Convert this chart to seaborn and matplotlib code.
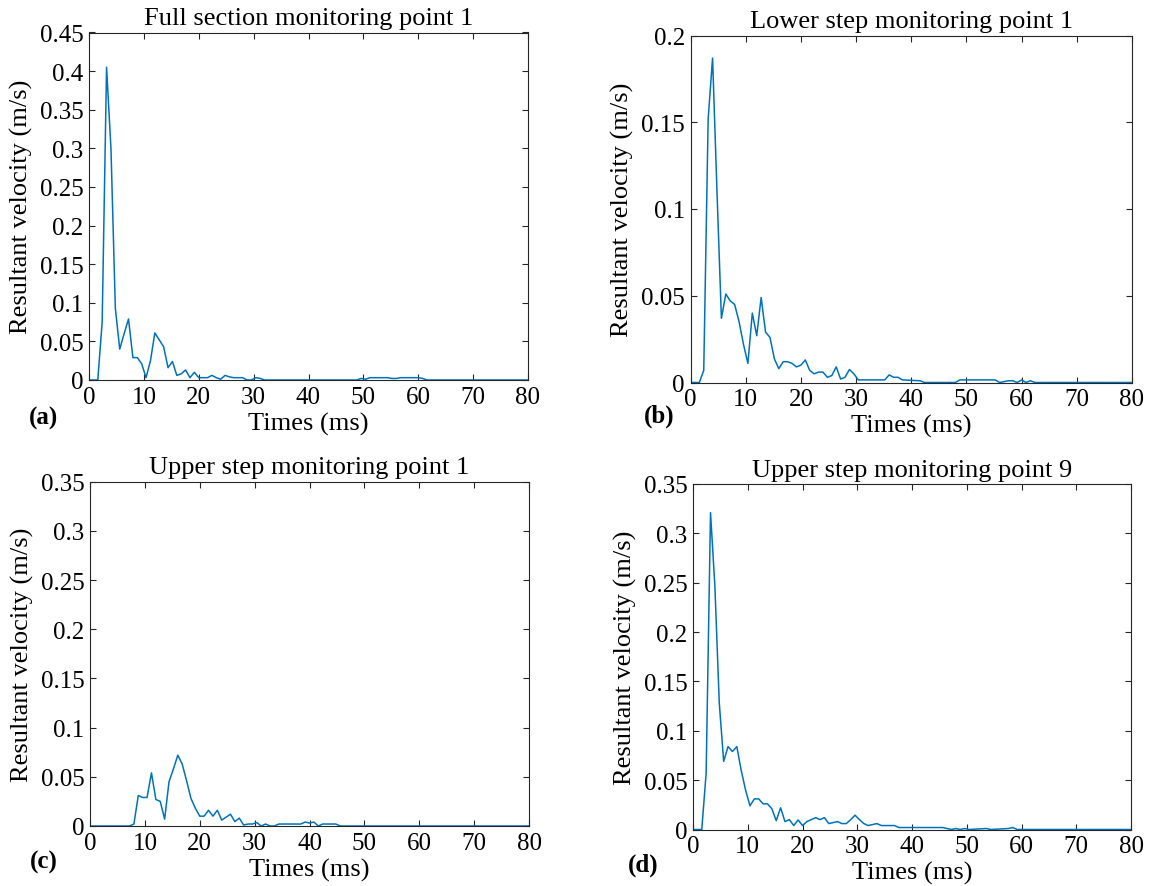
import numpy as np
import pandas as pd
import matplotlib
matplotlib.use("Agg")
import matplotlib.pyplot as plt
import seaborn as sns
from matplotlib.ticker import FuncFormatter, MultipleLocator

# ---------------- data (time in ms, resultant velocity in m/s) ----------------
t_a = [0, 1.6, 2.4, 3.2, 4.0, 4.8, 5.6, 6.4, 7.2, 8.0, 8.8, 9.6, 10.4, 11.2, 12.0, 12.8,
       13.6, 14.4, 15.2, 16.0, 16.8, 17.6, 18.4, 19.2, 20.0, 20.8, 21.6, 22.4, 23.2, 24.0,
       24.8, 25.6, 26.4, 27.2, 28.0, 28.8, 29.6, 30.4, 31.2, 32.0, 48.8, 49.6, 50.4, 51.2,
       52.0, 52.8, 53.6, 54.4, 55.2, 56.0, 56.8, 57.6, 58.4, 59.2, 60.0, 60.8, 61.6, 80]
v_a = [0, 0, 0.075, 0.405, 0.30, 0.093, 0.040, 0.060, 0.079, 0.029, 0.029, 0.021, 0.003,
       0.025, 0.061, 0.052, 0.043, 0.016, 0.024, 0.006, 0.008, 0.013, 0.003, 0.010, 0.003,
       0.003, 0.003, 0.006, 0.003, 0.001, 0.006, 0.004, 0.003, 0.003, 0.003, 0.0, 0.0,
       0.003, 0.002, 0.0, 0.0, 0.002, 0.001, 0.003, 0.003, 0.003, 0.003, 0.003, 0.002,
       0.002, 0.003, 0.003, 0.003, 0.003, 0.003, 0.002, 0.0, 0]

t_b = [0, 1.6, 2.4, 3.2, 4.0, 4.8, 5.6, 6.4, 7.2, 8.0, 8.8, 9.6, 10.4, 11.2, 12.0, 12.8,
       13.6, 14.4, 15.2, 16.0, 16.8, 17.6, 18.4, 19.2, 20.0, 20.8, 21.6, 22.4, 23.2, 24.0,
       24.8, 25.6, 26.4, 27.2, 28.0, 28.8, 29.6, 30.4, 35.2, 36.0, 36.8, 37.6, 38.4, 41.6,
       42.4, 48.0, 48.8, 55.2, 56.0, 57.6, 58.4, 59.2, 60.0, 60.8, 61.6, 62.4, 80]
v_b = [0, 0, 0.007, 0.152, 0.187, 0.110, 0.037, 0.051, 0.047, 0.045, 0.035, 0.022, 0.011,
       0.040, 0.027, 0.049, 0.029, 0.026, 0.0136, 0.008, 0.012, 0.012, 0.011, 0.009, 0.010,
       0.013, 0.007, 0.005, 0.006, 0.006, 0.003, 0.004, 0.009, 0.002, 0.003, 0.0075, 0.005,
       0.0015, 0.0015, 0.0044, 0.003, 0.003, 0.0015, 0.001, 0.0, 0.0, 0.0015, 0.0015, 0.0,
       0.001, 0.001, 0.0, 0.0015, 0.0, 0.001, 0.0, 0]

t_c = [0, 7.2, 8.0, 8.8, 9.6, 10.4, 11.2, 12.0, 12.8, 13.6, 14.4, 15.2, 16.0, 16.8, 17.6,
       18.4, 19.2, 20.0, 20.8, 21.6, 22.4, 23.2, 24.0, 24.8, 25.6, 26.4, 27.2, 28.0, 28.8,
       29.6, 30.4, 31.2, 32.0, 32.8, 33.6, 34.4, 38.4, 39.2, 40.0, 40.8, 41.6, 42.4, 44.8,
       45.6, 80]
v_c = [0, 0, 0.002, 0.031, 0.029, 0.029, 0.054, 0.027, 0.025, 0.007, 0.045, 0.058, 0.072,
       0.063, 0.046, 0.028, 0.018, 0.010, 0.010, 0.016, 0.010, 0.016, 0.006, 0.009, 0.012,
       0.0045, 0.008, 0.001, 0.002, 0.002, 0.0035, 0.0, 0.002, 0.0, 0.0, 0.002, 0.002,
       0.004, 0.003, 0.004, 0.0, 0.002, 0.002, 0.0, 0]

t_d = [0, 1.6, 2.4, 3.2, 4.0, 4.8, 5.6, 6.4, 7.2, 8.0, 8.8, 9.6, 10.4, 11.2, 12.0, 12.8,
       13.6, 14.4, 15.2, 16.0, 16.8, 17.6, 18.4, 19.2, 20.0, 20.8, 21.6, 22.4, 23.2, 24.0,
       24.8, 25.6, 26.4, 27.2, 28.0, 28.8, 29.6, 30.4, 31.2, 32.0, 32.8, 33.6, 34.4, 36.8,
       37.6, 45.6, 46.4, 47.2, 48.0, 48.8, 49.6, 50.4, 53.6, 54.4, 57.6, 58.4, 59.2, 80]
v_d = [0, 0, 0.057, 0.321, 0.246, 0.128, 0.069, 0.084, 0.079, 0.084, 0.060, 0.040, 0.024,
       0.031, 0.031, 0.026, 0.026, 0.021, 0.009, 0.022, 0.008, 0.010, 0.004, 0.0097, 0.004,
       0.008, 0.010, 0.012, 0.010, 0.012, 0.006, 0.007, 0.008, 0.006, 0.006, 0.010, 0.0145,
       0.010, 0.006, 0.004, 0.005, 0.006, 0.004, 0.004, 0.002, 0.002, 0.001, 0.0, 0.001,
       0.0, 0.001, 0.0, 0.001, 0.0, 0.001, 0.002, 0.0, 0]

titles = ["Full section monitoring point 1", "Lower step monitoring point 1",
          "Upper step monitoring point 1", "Upper step monitoring point 9"]
letters = ["(a)", "(b)", "(c)", "(d)"]
ymax = [0.45, 0.2, 0.35, 0.35]
x_label = "Times (ms)"
y_label = "Resultant velocity (m/s)"

# ---------------- style ----------------
sns.set_style("ticks")
plt.rcParams["font.family"] = ["Liberation Serif", "DejaVu Serif"]
plt.rcParams["text.color"] = "black"
plt.rcParams["axes.labelcolor"] = "black"

LINE = "#0072BD"
EDGE = "#262626"
FS = 18
FS_LAB = 19

fig = plt.figure(figsize=(11.59, 8.87), dpi=100)
W, H = 1159, 887
boxes = [(89, 528, 33.5, 381), (690.5, 1132, 36.5, 383.5),
         (90, 529, 482.7, 827), (693, 1131, 485, 830.5)]
letter_pos = [(43, 418), (659, 416), (44, 862), (643, 865)]

series = [(t_a, v_a), (t_b, v_b), (t_c, v_c), (t_d, v_d)]

fmt = FuncFormatter(lambda v, p: ("%g" % round(v, 4)))

for i, ((l, r, t, b), (tt, vv)) in enumerate(zip(boxes, series)):
    ax = fig.add_axes([l / W, 1 - b / H, (r - l) / W, (b - t) / H])
    df = pd.DataFrame({"t": tt, "v": vv})
    sns.lineplot(data=df, x="t", y="v", ax=ax, color=LINE, linewidth=1.1,
                 estimator=None, sort=False)
    ax.set_xlim(0, 80)
    ax.set_ylim(0, ymax[i])
    ax.xaxis.set_major_locator(MultipleLocator(10))
    ax.yaxis.set_major_locator(MultipleLocator(0.05))
    ax.yaxis.set_major_formatter(fmt)
    ax.xaxis.set_major_formatter(fmt)
    ax.tick_params(direction="in", length=4.5, width=0.8, colors=EDGE,
                   labelcolor="black", labelsize=FS, top=True, right=True, pad=4)
    for s in ax.spines.values():
        s.set_visible(True)
        s.set_color(EDGE)
        s.set_linewidth(0.8)
    ax.set_xlabel(x_label, fontsize=FS_LAB, labelpad=3, color="black")
    ax.set_ylabel(y_label, fontsize=FS_LAB, labelpad=5, color="black")
    ax.set_title(titles[i], fontsize=FS_LAB, pad=6, color="black")
    lx, ly = letter_pos[i]
    fig.text(lx / W, 1 - ly / H, letters[i], fontsize=FS, fontweight="bold",
             ha="center", va="center", color="black")

fig.savefig("out.png", dpi=100)
